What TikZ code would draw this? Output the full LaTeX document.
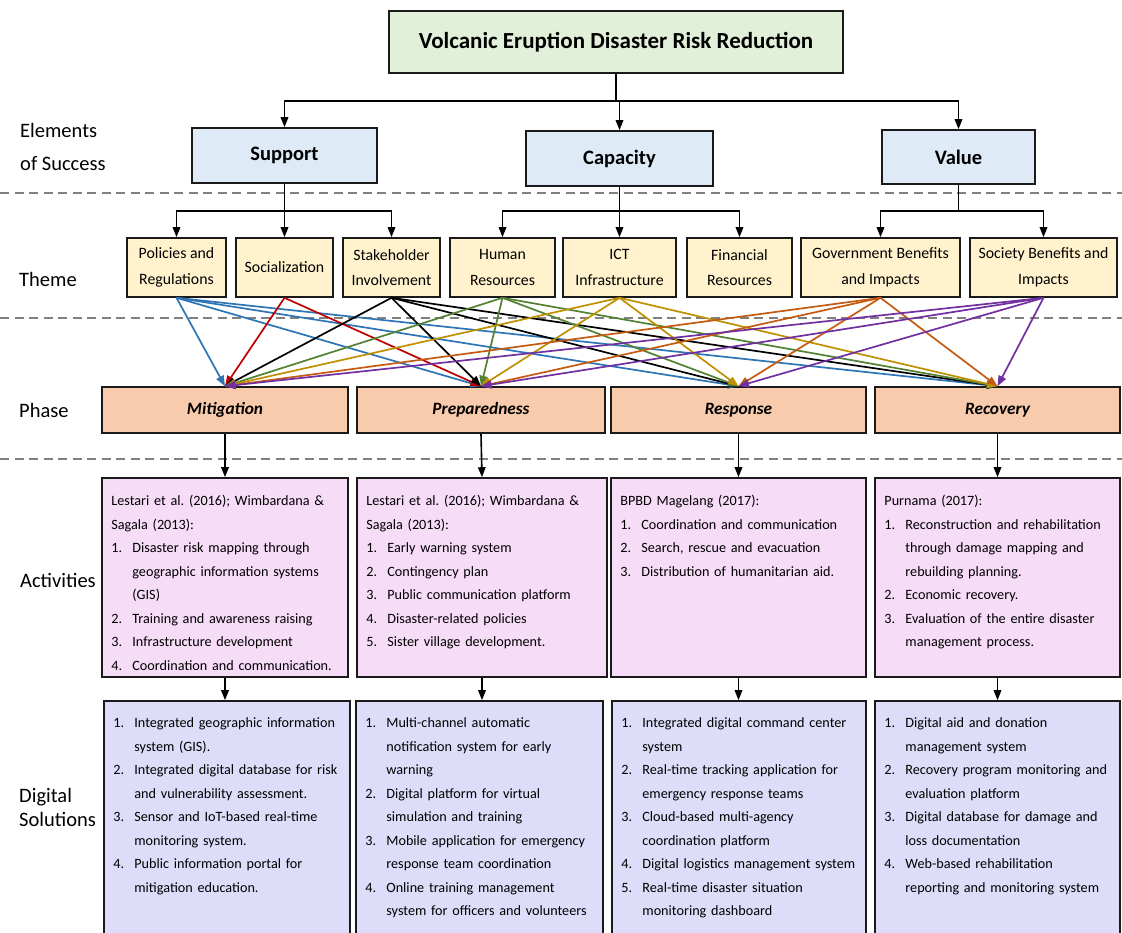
\documentclass[tikz,border=0pt]{standalone}
\usepackage{fontspec}
\setmainfont{Carlito}
\usetikzlibrary{arrows.meta}
\definecolor{titlefill}{HTML}{E2F0D9}
\definecolor{elemfill}{HTML}{DEEBF7}
\definecolor{themefill}{HTML}{FFF2CC}
\definecolor{phasefill}{HTML}{F8CBAD}
\definecolor{actfill}{HTML}{F6DCF7}
\definecolor{digfill}{HTML}{DDDDF9}
\definecolor{sepgray}{HTML}{808080}
\definecolor{cblue}{HTML}{2E75B6}
\definecolor{cred}{HTML}{C00000}
\definecolor{cgreen}{HTML}{548235}
\definecolor{cgold}{HTML}{BF9000}
\definecolor{corange}{HTML}{C55A11}
\definecolor{cpurple}{HTML}{7030A0}
\definecolor{bord}{HTML}{1A1A1A}
\frenchspacing
\newcommand{\itm}[2]{\par\hangindent=21pt\hangafter=1\noindent\makebox[21pt][l]{\strut#1}#2\par}
\newcommand{\bx}[7]{\node[#2, minimum width={(#5)-(#3)}, minimum height={(#6)-(#4)}] (#1) at ({((#3)+(#5))/2},{((#4)+(#6))/2}) {#7};}
\begin{document}
\begin{tikzpicture}[x=1pt,y=-1pt,
 box/.style={draw=bord, line width=1.6pt, inner sep=0pt},
 tbox/.style={box, fill=titlefill, font=\fontsize{23}{27}\selectfont\bfseries},
 ebox/.style={box, fill=elemfill, font=\fontsize{20.5}{24}\selectfont\bfseries},
 thbox/.style={box, fill=themefill, align=center, font=\fontsize{15.8}{25.5}\selectfont},
 phbox/.style={box, fill=phasefill, font=\fontsize{17.3}{21}\selectfont\bfseries\itshape},
 abox/.style={box, fill=actfill},
 dbox/.style={box, fill=digfill},
 lbl/.style={anchor=west, inner sep=0pt, align=left, font=\fontsize{20.5}{33}\selectfont},
 tree/.style={line width=1.6pt, -{Triangle[length=10pt,width=7.5pt]}},
 treeline/.style={line width=1.6pt},
 link/.style={line width=1.7pt, -{Triangle[length=10.5pt,width=8pt]}},
 sep/.style={sepgray, line width=2.8pt, dash pattern=on 9pt off 5.5pt},
 txt/.style={inner sep=0pt, anchor=north west, text width=320pt, align=left,
   font=\fontsize{14.2}{23.5}\selectfont\setlength{\parindent}{0pt}}]
\useasboundingbox (0,0) rectangle (1122,932);
\clip (0,0) rectangle (1122,932);
\fill[white] (0,0) rectangle (1122,932);

% separators
\draw[sep] (0,193) -- (1122,193);
\draw[sep] (0,318) -- (1122,318);
\draw[sep] (0,459) -- (1122,459);

% left labels
\node[lbl] (lelem) at (20,147) {Elements\\of Success};
\node[lbl] (ltheme) at (19,279) {Theme};
\node[lbl] (lphase) at (19,410) {Phase};
\node[lbl] (lact) at (20,580) {Activities};
\node[lbl, font=\fontsize{20.5}{24}\selectfont] (ldig) at (19,807) {Digital\\Solutions};

% title and elements
\bx{title}{tbox}{389}{11}{843}{73}{Volcanic Eruption Disaster Risk Reduction}
\bx{sup}{ebox}{192}{128}{377}{183}{Support}
\bx{cap}{ebox}{526}{131}{713}{186}{Capacity}
\bx{val}{ebox}{882}{130}{1035}{184}{Value}

% themes
\bx{pol}{thbox}{127}{238}{226}{297}{Policies and\\Regulations}
\bx{soc}{thbox}{236}{238}{333}{297}{Socialization}
\bx{stk}{thbox}{343}{238}{440}{297}{Stakeholder\\Involvement}
\bx{hum}{thbox}{450}{238}{555}{297}{Human\\Resources}
\bx{ict}{thbox}{563}{238}{676}{297}{ICT\\Infrastructure}
\bx{fin}{thbox}{687}{238}{792}{297}{Financial\\Resources}
\bx{gov}{thbox}{801}{238}{960}{297}{Government Benefits\\and Impacts}
\bx{sty}{thbox}{970}{238}{1117}{297}{Society Benefits and\\Impacts}

% phases
\bx{mit}{phbox}{102}{387}{348}{433}{Mitigation}
\bx{pre}{phbox}{357}{387}{605}{433}{Preparedness}
\bx{res}{phbox}{611}{387}{866}{433}{Response}
\bx{rec}{phbox}{875}{387}{1120}{433}{Recovery}

% activities and digital boxes
\bx{a1}{abox}{102}{478}{348}{677}{}
\bx{a2}{abox}{357}{478}{607}{677}{}
\bx{a3}{abox}{611}{478}{866}{677}{}
\bx{a4}{abox}{875}{478}{1120}{677}{}
\bx{d1}{dbox}{104}{701}{350}{960}{}
\bx{d2}{dbox}{356}{701}{603}{960}{}
\bx{d3}{dbox}{612}{701}{866}{960}{}
\bx{d4}{dbox}{875}{701}{1120}{960}{}

% tree connectors
\draw[treeline] (title.south) -- ++(0,27) coordinate (tj);
\draw[tree] (tj) -| (sup.north);
\draw[tree] (tj) -| (cap.north);
\draw[tree] (tj) -| (val.north);
\draw[treeline] (sup.south) -- ++(0,27) coordinate (sj);
\draw[tree] (sj) -| (pol.north);
\draw[tree] (sj) -| (soc.north);
\draw[tree] (sj) -| (stk.north);
\draw[treeline] (cap.south) -- ++(0,24) coordinate (cj);
\draw[tree] (cj) -| (hum.north);
\draw[tree] (cj) -| (ict.north);
\draw[tree] (cj) -| (fin.north);
\draw[treeline] (val.south) -- ++(0,26) coordinate (vj);
\draw[tree] (vj) -| (gov.north);
\draw[tree] (vj) -| (sty.north);

% theme to phase links
\foreach \t in {mit,pre,res,rec} \draw[link, cblue] (pol.south) -- (\t.north);
\foreach \t in {mit,pre} \draw[link, cred] (soc.south) -- (\t.north);
\foreach \t in {mit,pre,res,rec} \draw[link, black] (stk.south) -- (\t.north);
\foreach \t in {mit,pre,res,rec} \draw[link, cgreen] (hum.south) -- (\t.north);
\foreach \t in {mit,pre,res,rec} \draw[link, cgold] (ict.south) -- (\t.north);
\foreach \t in {mit,pre,res,rec} \draw[link, corange] (gov.south) -- (\t.north);
\foreach \t in {mit,pre,res,rec} \draw[link, cpurple] (sty.south) -- (\t.north);

% phase to activities to digital
\foreach \p/\a/\d in {mit/a1/d1, pre/a2/d2, res/a3/d3, rec/a4/d4} {
  \draw[tree] (\p.south) -- (\a.north);
  \draw[tree] (\a.south) -- (\a.south |- \d.north);
}

% activity texts
\node[txt] (a1t) at ([xshift=10pt,yshift=-12pt]a1.north west) {\strut Lestari et al. (2016); Wimbardana \&\newline Sagala (2013):
\itm{1.}{Disaster risk mapping through\newline geographic information systems\newline (GIS)}
\itm{2.}{Training and awareness raising}
\itm{3.}{Infrastructure development}
\itm{4.}{Coordination and communication.}};
\node[txt] (a2t) at ([xshift=10pt,yshift=-12pt]a2.north west) {\strut Lestari et al. (2016); Wimbardana \&\newline Sagala (2013):
\itm{1.}{Early warning system}
\itm{2.}{Contingency plan}
\itm{3.}{Public communication platform}
\itm{4.}{Disaster-related policies}
\itm{5.}{Sister village development.}};
\node[txt] (a3t) at ([xshift=10pt,yshift=-12pt]a3.north west) {\strut BPBD Magelang (2017):
\itm{1.}{Coordination and communication}
\itm{2.}{Search, rescue and evacuation}
\itm{3.}{Distribution of humanitarian aid.}};
\node[txt] (a4t) at ([xshift=10pt,yshift=-12pt]a4.north west) {\strut Purnama (2017):
\itm{1.}{Reconstruction and rehabilitation\newline through damage mapping and\newline rebuilding planning.}
\itm{2.}{Economic recovery.}
\itm{3.}{Evaluation of the entire disaster\newline management process.}};

% digital texts
\node[txt] (d1t) at ([xshift=10pt,yshift=-4pt]d1.north west) {%
\itm{1.}{Integrated geographic information\newline system (GIS).}
\itm{2.}{Integrated digital database for risk\newline and vulnerability assessment.}
\itm{3.}{Sensor and IoT-based real-time\newline monitoring system.}
\itm{4.}{Public information portal for\newline mitigation education.}};
\node[txt] (d2t) at ([xshift=10pt,yshift=-4pt]d2.north west) {%
\itm{1.}{Multi-channel automatic\newline notification system for early\newline warning}
\itm{2.}{Digital platform for virtual\newline simulation and training}
\itm{3.}{Mobile application for emergency\newline response team coordination}
\itm{4.}{Online training management\newline system for officers and volunteers}};
\node[txt] (d3t) at ([xshift=10pt,yshift=-4pt]d3.north west) {%
\itm{1.}{Integrated digital command center\newline system}
\itm{2.}{Real-time tracking application for\newline emergency response teams}
\itm{3.}{Cloud-based multi-agency\newline coordination platform}
\itm{4.}{Digital logistics management system}
\itm{5.}{Real-time disaster situation\newline monitoring dashboard}};
\node[txt] (d4t) at ([xshift=10pt,yshift=-4pt]d4.north west) {%
\itm{1.}{Digital aid and donation\newline management system}
\itm{2.}{Recovery program monitoring and\newline evaluation platform}
\itm{3.}{Digital database for damage and\newline loss documentation}
\itm{4.}{Web-based rehabilitation\newline reporting and monitoring system}};
\end{tikzpicture}
\end{document}
